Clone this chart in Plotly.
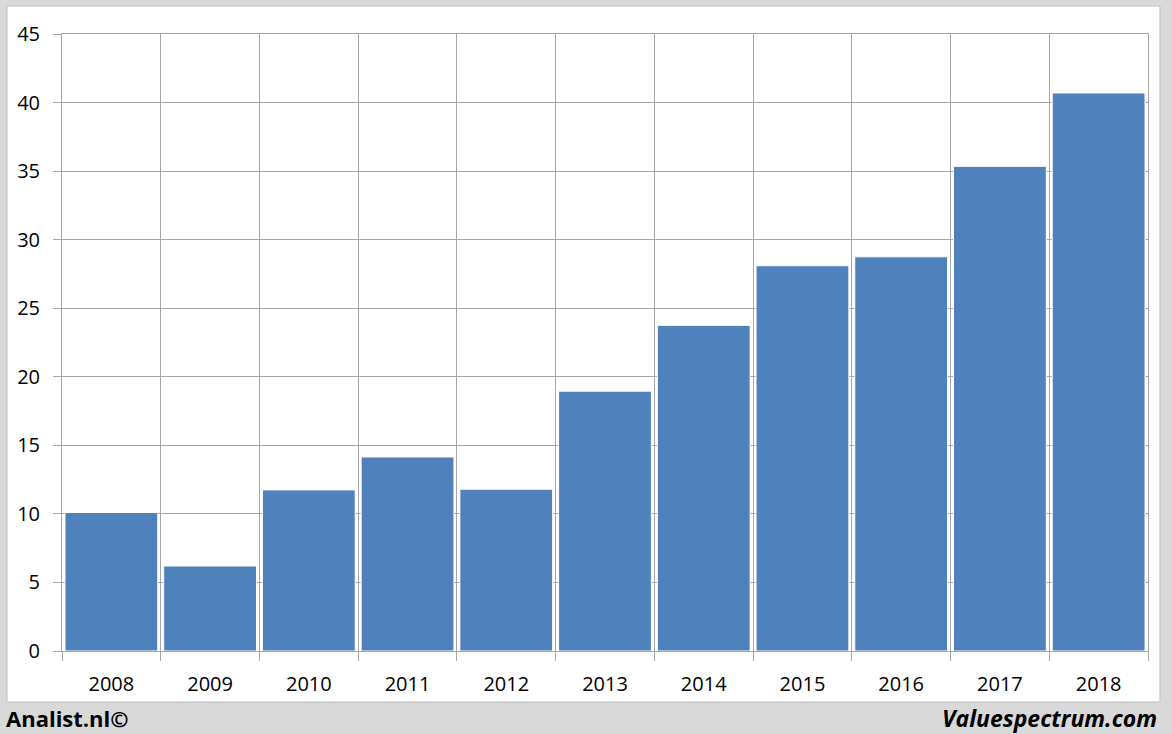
import plotly.graph_objects as go

years = ["2008", "2009", "2010", "2011", "2012", "2013", "2014", "2015", "2016", "2017", "2018"]
values = [10.1, 6.2, 11.75, 14.15, 11.8, 18.95, 23.75, 28.1, 28.75, 35.35, 40.7]
y_ticks = [0, 5, 10, 15, 20, 25, 30, 35, 40, 45]

W, H = 1172, 734
L, R, T, B = 62, 1148, 34, 651
pw, ph = R - L, B - T

def px(x):
    return (x - L) / pw

def py(y):
    return (B - y) / ph

FONT = "Open Sans, Liberation Sans, sans-serif"

fig = go.Figure()
fig.add_trace(go.Bar(
    x=years, y=values,
    marker=dict(color="#4f81bd", line=dict(color="white", width=1)),
    hoverinfo="x+y",
))

grid = "#a6a6a6"
fig.update_layout(
    width=W, height=H,
    margin=dict(l=L, r=W - R, t=T, b=H - B, pad=0),
    paper_bgcolor="#d9d9d9",
    plot_bgcolor="white",
    bargap=0.06,
    showlegend=False,
    font=dict(family=FONT, size=20, color="#000"),
    xaxis=dict(
        type="category", tickson="boundaries", showgrid=True, gridcolor=grid, gridwidth=1,
        ticks="outside", ticklen=9, tickcolor=grid, showline=True, linecolor=grid,
        mirror=True, tickfont=dict(size=20), ticklabelstandoff=15,
    ),
    yaxis=dict(
        range=[0, 45], tickvals=y_ticks, showgrid=True, gridcolor=grid, gridwidth=1,
        ticks="outside", ticklen=8, tickcolor=grid, showline=True, linecolor=grid,
        mirror=True, zeroline=False, tickfont=dict(size=20), ticklabelstandoff=9,
    ),
    shapes=[dict(
        type="rect", xref="paper", yref="paper", layer="below",
        x0=px(7), x1=px(1160), y0=py(702), y1=py(6),
        fillcolor="white", line=dict(color="#bfbfbf", width=1),
    )],
    annotations=[
        dict(text="<b>Analist.nl©</b>", xref="paper", yref="paper",
             x=px(4), y=py(718), xanchor="left", yanchor="middle", showarrow=False,
             font=dict(size=22, family=FONT, color="#000")),
        dict(text="<b><i>Valuespectrum.com</i></b>", xref="paper", yref="paper",
             x=px(1159), y=py(718), xanchor="right", yanchor="middle", showarrow=False,
             font=dict(size=23, family=FONT, color="#000")),
    ],
)

fig.write_html(
    "out.html",
    config={"displayModeBar": False},
    post_script="document.body.style.margin='0';document.body.style.padding='0';"
                "document.body.style.background='#d9d9d9';document.body.style.overflow='hidden';",
)
